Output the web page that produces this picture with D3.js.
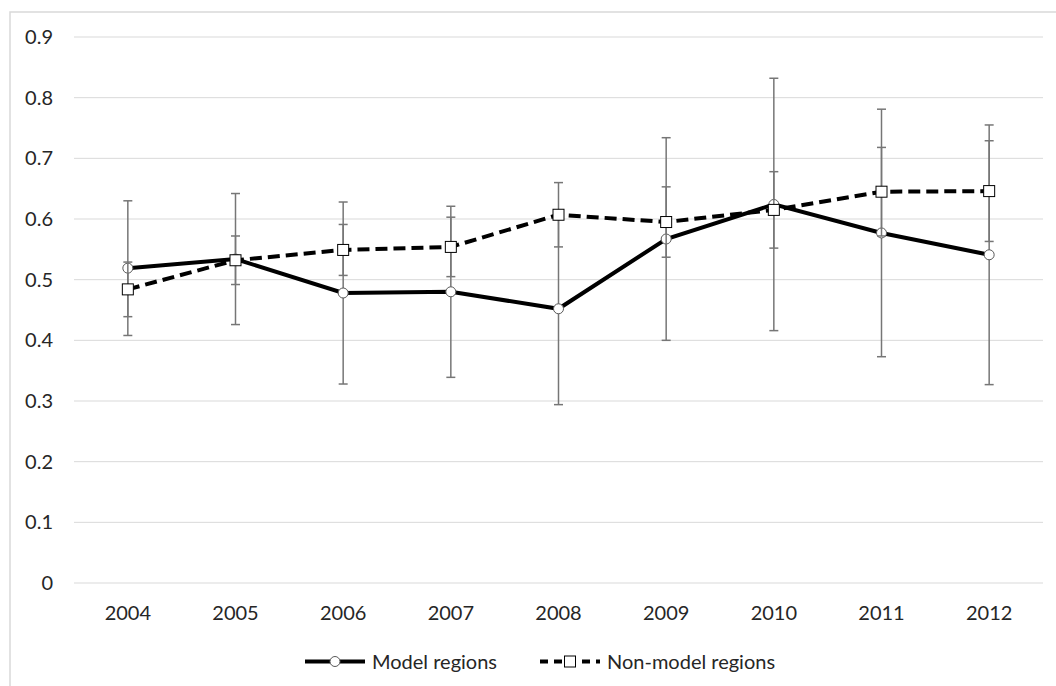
<!DOCTYPE html>
<html>
<head>
<meta charset="utf-8">
<script src="https://cdn.jsdelivr.net/npm/d3@7"></script>
<style>
  body { margin: 0; background: #fff; }
  text { font-family: Lato, "Open Sans", sans-serif; fill: #262626; }
</style>
</head>
<body>
<div id="chart"></div>
<script>
const years = ["2004", "2005", "2006", "2007", "2008", "2009", "2010", "2011", "2012"]
const modelValues = [0.519, 0.534, 0.478, 0.480, 0.452, 0.567, 0.624, 0.577, 0.541]
const modelErrors = [0.111, 0.108, 0.150, 0.141, 0.158, 0.167, 0.208, 0.204, 0.214]
const nonModelValues = [0.484, 0.532, 0.549, 0.554, 0.607, 0.595, 0.615, 0.645, 0.646]
const nonModelErrors = [0.045, 0.040, 0.042, 0.049, 0.053, 0.058, 0.063, 0.073, 0.083]
const yTicks = [0, 0.1, 0.2, 0.3, 0.4, 0.5, 0.6, 0.7, 0.8, 0.9]

const W = 1056, H = 686
const plot = {left: 74, right: 1043, top: 37, bottom: 583}

const svg = d3.select("#chart").append("svg").attr("width", W).attr("height", H)

// outer frame, cut off on the right and bottom like the original
svg.append("rect")
  .attr("x", 10).attr("y", 12)
  .attr("width", W + 20).attr("height", H + 20)
  .attr("fill", "none").attr("stroke", "#d9d9d9").attr("stroke-width", 1.5)

const x = d3.scalePoint().domain(years).range([plot.left, plot.right]).padding(0.5)
const y = d3.scaleLinear().domain([0, 0.9]).range([plot.bottom, plot.top])

// gridlines
svg.append("g")
  .selectAll("line")
  .data(yTicks)
  .join("line")
  .attr("x1", plot.left).attr("x2", plot.right)
  .attr("y1", d => y(d)).attr("y2", d => y(d))
  .attr("stroke", "#d9d9d9").attr("stroke-width", 1)

// y labels
svg.append("g")
  .selectAll("text")
  .data(yTicks)
  .join("text")
  .attr("x", 53).attr("y", d => y(d))
  .attr("dy", "0.35em")
  .attr("text-anchor", "end")
  .attr("font-size", 20)
  .text(d => d === 0 ? "0" : d3.format(".1f")(d))

// x labels
svg.append("g")
  .selectAll("text")
  .data(years)
  .join("text")
  .attr("x", d => x(d)).attr("y", 620)
  .attr("text-anchor", "middle")
  .attr("font-size", 20)
  .text(d => d)

const series = [
  {name: "Model regions", values: modelValues, errors: modelErrors, dash: null, marker: "circle"},
  {name: "Non-model regions", values: nonModelValues, errors: nonModelErrors, dash: "12,6", marker: "square"},
]

const line = d3.line().x((d, i) => x(years[i])).y(d => y(d))

function drawMarker(g, type, cx, cy) {
  if (type === "circle") {
    g.append("circle").attr("cx", cx).attr("cy", cy).attr("r", 5)
      .attr("fill", "#fff").attr("stroke", "#595959").attr("stroke-width", 1)
  } else {
    g.append("rect").attr("x", cx - 5.5).attr("y", cy - 5.5).attr("width", 11).attr("height", 11)
      .attr("fill", "#fff").attr("stroke", "#000").attr("stroke-width", 1)
  }
}

series.forEach(s => {
  const g = svg.append("g")
  // error bars
  const eb = g.append("g").attr("stroke", "#767676").attr("stroke-width", 1.5)
  s.values.forEach((v, i) => {
    const cx = x(years[i])
    const lo = y(v - s.errors[i]), hi = y(v + s.errors[i])
    eb.append("line").attr("x1", cx).attr("x2", cx).attr("y1", lo).attr("y2", hi)
    eb.append("line").attr("x1", cx - 4.5).attr("x2", cx + 4.5).attr("y1", lo).attr("y2", lo)
    eb.append("line").attr("x1", cx - 4.5).attr("x2", cx + 4.5).attr("y1", hi).attr("y2", hi)
  })
  g.append("path")
    .attr("d", line(s.values))
    .attr("fill", "none")
    .attr("stroke", "#000")
    .attr("stroke-width", 4)
    .attr("stroke-dasharray", s.dash)
  s.values.forEach((v, i) => drawMarker(g, s.marker, x(years[i]), y(v)))
})

// legend
const legendY = 661.5
const legendItems = [
  {s: series[0], x0: 305},
  {s: series[1], x0: 540},
]
legendItems.forEach(({s, x0}) => {
  const g = svg.append("g")
  g.append("line")
    .attr("x1", x0).attr("x2", x0 + 60)
    .attr("y1", legendY).attr("y2", legendY)
    .attr("stroke", "#000").attr("stroke-width", 4)
    .attr("stroke-dasharray", s.dash ? "8,6" : null)
  drawMarker(g, s.marker, x0 + 30, legendY)
  g.append("text")
    .attr("x", x0 + 67).attr("y", legendY)
    .attr("dy", "0.35em")
    .attr("font-size", 20)
    .text(s.name)
})
</script>
</body>
</html>
